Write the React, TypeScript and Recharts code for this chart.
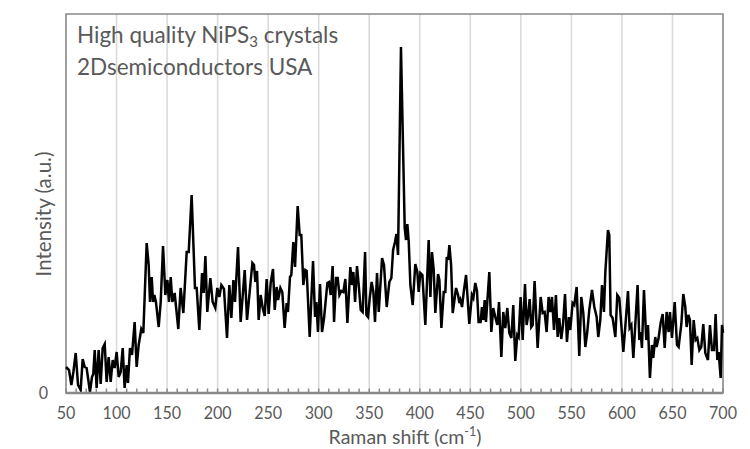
import React from 'react';
import { LineChart, Line, XAxis, YAxis, CartesianGrid, ReferenceArea } from 'recharts';

const ramanShift = [
  50.0, 53.0, 55.3, 57.3, 59.6, 61.9, 64.5, 66.5, 68.5, 70.4, 71.8, 73.7, 75.7, 77.0, 78.4, 80.3, 82.3, 84.3, 86.3, 88.3,
  90.2, 92.2, 94.2, 96.2, 98.1, 100.1, 102.1, 104.1, 106.1, 108.0, 110.0, 111.3, 113.3, 115.3, 117.9, 119.9, 121.9, 124.5, 126.5, 129.8,
  131.8, 133.1, 134.8, 136.1, 137.4, 139.0, 141.7, 143.7, 146.0, 148.3, 150.3, 151.9, 153.6, 155.2, 157.5, 161.1, 163.4, 166.1, 169.4, 171.4,
  174.3, 177.6, 179.3, 181.9, 184.6, 186.2, 187.9, 189.8, 192.8, 195.1, 197.7, 199.7, 201.7, 203.7, 206.3, 209.3, 211.6, 213.6, 215.6, 217.2,
  220.2, 222.8, 226.8, 229.1, 231.7, 234.4, 236.0, 237.3, 239.0, 240.6, 242.6, 244.6, 246.6, 248.5, 250.5, 252.5, 254.8, 256.5, 258.4, 259.8,
  262.1, 264.0, 266.3, 268.3, 269.6, 271.6, 272.9, 274.9, 276.6, 279.2, 281.2, 282.8, 284.8, 286.8, 288.1, 291.1, 294.4, 296.4, 297.7, 299.3,
  301.3, 303.3, 305.3, 308.6, 310.2, 311.9, 313.8, 315.2, 317.2, 318.8, 320.5, 322.4, 324.4, 326.4, 328.4, 331.3, 333.0, 334.3, 336.0, 337.9,
  339.6, 341.6, 343.5, 345.9, 347.2, 348.8, 350.5, 352.4, 354.1, 355.7, 357.7, 359.4, 362.7, 364.6, 367.3, 369.9, 371.9, 373.6, 375.5, 376.9,
  378.5, 381.4, 385.1, 386.4, 387.7, 389.1, 390.7, 393.0, 395.6, 397.6, 398.9, 400.6, 402.6, 405.5, 408.8, 410.5, 412.1, 413.8, 415.4, 418.1,
  419.4, 421.4, 423.7, 425.3, 426.7, 428.0, 429.3, 431.0, 432.6, 435.9, 437.9, 439.2, 440.2, 441.8, 443.5, 445.8, 449.0, 451.6, 453.0, 454.9,
  456.6, 458.2, 460.2, 461.5, 462.9, 464.2, 465.5, 466.8, 468.8, 470.8, 472.7, 474.7, 476.7, 478.4, 480.7, 482.6, 484.6, 486.6, 488.6, 490.6,
  492.5, 494.5, 496.5, 497.8, 499.8, 501.8, 504.1, 505.7, 507.0, 508.7, 510.3, 511.7, 513.6, 516.6, 519.6, 521.6, 523.5, 525.5, 527.5, 529.1,
  530.8, 532.8, 534.7, 536.4, 538.0, 540.0, 541.7, 543.7, 545.6, 547.6, 548.9, 551.2, 552.9, 555.2, 557.8, 559.8, 561.8, 563.8, 565.7, 567.7,
  570.4, 572.7, 575.0, 576.6, 578.6, 580.3, 582.2, 583.6, 586.2, 587.5, 588.8, 590.8, 593.5, 595.4, 597.4, 599.4, 601.4, 604.0, 606.0, 607.6,
  609.3, 611.3, 613.2, 615.5, 617.2, 618.5, 619.8, 621.8, 624.1, 625.8, 627.7, 629.7, 631.0, 633.0, 634.3, 636.3, 638.3, 640.3, 642.3, 644.2,
  646.2, 647.5, 649.5, 652.2, 654.5, 656.1, 658.8, 660.7, 662.7, 664.0, 665.7, 667.3, 669.0, 671.0, 672.9, 674.6, 676.6, 678.5, 680.5, 682.5,
  685.1, 687.1, 689.1, 691.1, 692.7, 694.4, 695.7, 697.7, 699.0, 700.0,
];

const intensity = [
  26, 23, 8, 21, 40, 8, 3, 34, 26, 25, 15, 1, 16, 19, 43, 5, 43, 9, 45, 49,
  11, 36, 11, 33, 25, 41, 16, 21, 45, 5, 28, 10, 45, 38, 71, 26, 48, 64, 60, 150,
  128, 91, 116, 91, 98, 91, 66, 91, 147, 98, 113, 91, 116, 91, 100, 64, 105, 80, 141, 141,
  198, 105, 105, 63, 120, 100, 137, 81, 115, 91, 85, 105, 96, 108, 104, 55, 108, 75, 113, 91,
  146, 71, 123, 73, 101, 130, 128, 111, 122, 73, 98, 85, 77, 114, 79, 110, 124, 83, 106, 93,
  105, 101, 65, 90, 81, 116, 118, 151, 126, 187, 158, 158, 108, 123, 122, 56, 132, 76, 91, 61,
  109, 61, 75, 110, 111, 98, 127, 71, 115, 115, 98, 102, 101, 114, 70, 126, 108, 121, 91, 127,
  108, 83, 81, 141, 78, 76, 95, 111, 101, 71, 120, 81, 135, 128, 86, 111, 115, 143, 151, 159,
  138, 346, 165, 153, 169, 151, 108, 88, 129, 121, 101, 120, 118, 68, 153, 96, 141, 123, 80, 119,
  113, 65, 101, 101, 136, 133, 148, 128, 80, 105, 98, 90, 93, 86, 101, 118, 69, 98, 95, 110,
  102, 71, 71, 86, 73, 93, 71, 91, 121, 61, 85, 76, 68, 91, 36, 81, 65, 85, 60, 55,
  88, 32, 58, 56, 96, 53, 109, 68, 76, 94, 66, 68, 112, 45, 96, 80, 81, 61, 96, 81,
  96, 63, 98, 56, 75, 54, 68, 99, 51, 76, 63, 90, 88, 106, 37, 96, 80, 46, 61, 83,
  103, 86, 76, 56, 73, 108, 81, 121, 163, 158, 78, 75, 56, 98, 95, 68, 41, 75, 102, 65,
  68, 35, 68, 108, 53, 61, 45, 103, 53, 68, 15, 48, 35, 56, 46, 55, 70, 79, 45, 81,
  61, 81, 55, 91, 48, 46, 69, 99, 86, 66, 78, 73, 28, 73, 53, 55, 43, 46, 69, 40,
  33, 68, 43, 43, 79, 33, 41, 15, 68, 60,
];

const majorTicks = [50, 100, 150, 200, 250, 300, 350, 400, 450, 500, 550, 600, 650, 700];
const minorTicks = [
  50, 60, 70, 80, 90, 100, 110, 120, 130, 140, 150, 160, 170, 180, 190, 200, 210, 220, 230, 240,
  250, 260, 270, 280, 290, 300, 310, 320, 330, 340, 350, 360, 370, 380, 390, 400, 410, 420, 430, 440,
  450, 460, 470, 480, 490, 500, 510, 520, 530, 540, 550, 560, 570, 580, 590, 600, 610, 620, 630, 640,
  650, 660, 670, 680, 690, 700,
];
const yTicks = [0];

const data = ramanShift.map((s, i) => ({ shift: s, intensity: intensity[i] }));

const TXT = '#595959';
const AXIS = '#898989';
const FONT = "Lato, 'Open Sans', sans-serif";

const XTick = (props: any) => {
  const { x, y, payload } = props;
  const v = payload.value;
  return (
    <g>
      <line x1={x} x2={x} y1={y} y2={y - 4.5} stroke={AXIS} strokeWidth={1.5} />
      {v % 50 === 0 ? (
        <text
          transform={`translate(${x},${y + 13}) scale(0.92,1)`}
          textAnchor="middle"
          dy="0.72em"
          fontSize={17.5}
          fill={TXT}
          fontFamily={FONT}
        >
          {v}
        </text>
      ) : null}
    </g>
  );
};

const YTick = (props: any) => {
  const { x, y, payload } = props;
  return (
    <text
      transform={`translate(${x},${y}) scale(0.92,1)`}
      textAnchor="end"
      dy="0.36em"
      fontSize={17.5}
      fill={TXT}
      fontFamily={FONT}
    >
      {payload.value}
    </text>
  );
};

export default function App() {
  return (
    <div style={{ position: 'absolute', left: 0, top: 0, width: 750, height: 449, background: '#fff' }}>
      <LineChart
        width={750}
        height={449}
        data={data}
        margin={{ top: 14, right: 27, left: 0, bottom: 0 }}
      >
        <XAxis
          xAxisId="main"
          dataKey="shift"
          type="number"
          domain={[50, 700]}
          ticks={minorTicks}
          interval={0}
          height={56}
          tickSize={0}
          tickMargin={0}
          tickLine={false}
          axisLine={{ stroke: AXIS, strokeWidth: 2.5 }}
          tick={<XTick />}
        />
        <XAxis
          xAxisId="grid"
          dataKey="shift"
          type="number"
          domain={[50, 700]}
          ticks={majorTicks}
          height={0}
          hide
        />
        <CartesianGrid xAxisId="grid" horizontal={false} stroke="#d9d9d9" strokeWidth={1.5} />
        <YAxis
          type="number"
          domain={[0, 379]}
          ticks={yTicks}
          width={66}
          tickSize={0}
          tickMargin={18}
          tickLine={false}
          axisLine={false}
          tick={<YTick />}
        />
        <ReferenceArea
          xAxisId="main"
          x1={50}
          x2={700}
          y1={0}
          y2={379}
          fill="none"
          stroke={AXIS}
          strokeWidth={1.5}
          ifOverflow="visible"
        />
        <Line
          xAxisId="main"
          type="linear"
          dataKey="intensity"
          stroke="#000"
          strokeWidth={2.5}
          dot={false}
          isAnimationActive={false}
        />
      </LineChart>
      <svg
        width={750}
        height={449}
        style={{ position: 'absolute', left: 0, top: 0, pointerEvents: 'none' }}
      >
        <text x={77} y={43} fontSize={22.5} fill={TXT} fontFamily={FONT}>
          High quality NiPS<tspan fontSize={15} dy={4}>3</tspan>
          <tspan dy={-4}> crystals</tspan>
        </text>
        <text x={77} y={75} fontSize={22.5} fill={TXT} fontFamily={FONT}>
          2Dsemiconductors USA
        </text>
        <text x={405} y={444} fontSize={19.5} fill={TXT} fontFamily={FONT} textAnchor="middle">
          Raman shift (cm<tspan fontSize={12.5} dy={-8}>-1</tspan>
          <tspan dy={8}>)</tspan>
        </text>
        <text
          transform="translate(51,214) rotate(-90)"
          fontSize={20.5}
          fill={TXT}
          fontFamily={FONT}
          textAnchor="middle"
        >
          Intensity (a.u.)
        </text>
      </svg>
    </div>
  );
}
